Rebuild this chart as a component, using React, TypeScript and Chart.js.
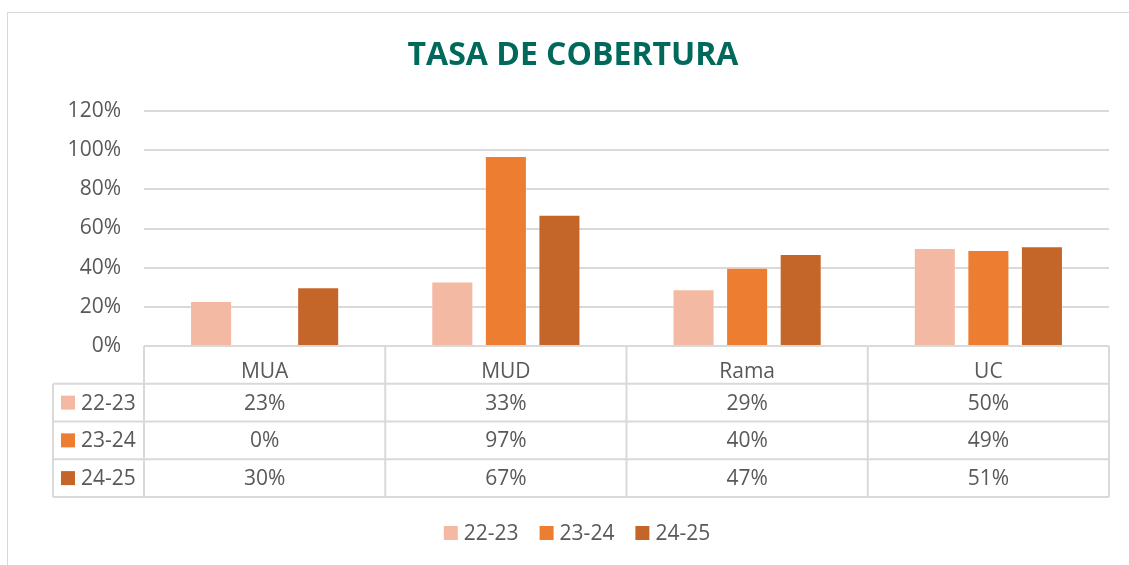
import React, { useEffect, useRef } from "react";
import { Chart, registerables } from "chart.js";

Chart.register(...registerables);

const TITLE = "TASA DE COBERTURA";
const categories = ["MUA", "MUD", "Rama", "UC"];
const seriesLabels = ["22-23", "23-24", "24-25"];
const s2223 = [23, 33, 29, 50];
const s2324 = [0, 97, 40, 49];
const s2425 = [30, 67, 47, 51];
const seriesColors = ["#F4B9A3", "#ED7D31", "#C4652A"];
const yTicks = [0, 20, 40, 60, 80, 100, 120];

const TEXT = "#595959";
const LINE = "#d9d9d9";
const FONT = "'Open Sans', sans-serif";
const FS = 21;

const tablePlugin = {
  id: "dataTable",
  afterDraw(chart: any) {
    const { ctx, chartArea } = chart;
    const xs = chart.scales.x;
    const n = categories.length;
    const cw = (xs.right - xs.left) / n;
    const rowH = 37.75;
    const top = chartArea.bottom;
    const legendLeft = 53;
    const rows = chart.data.datasets.length;
    const bottom = top + rowH * (rows + 1);
    ctx.save();
    // outer container border
    ctx.strokeStyle = LINE;
    ctx.lineWidth = 1;
    ctx.strokeRect(7.5, 12.5, 1300, 700);

    ctx.strokeStyle = LINE;
    ctx.lineWidth = 2;
    ctx.beginPath();
    ctx.moveTo(xs.left, top);
    ctx.lineTo(xs.right, top);
    for (let r = 1; r <= rows + 1; r++) {
      const y = top + r * rowH;
      ctx.moveTo(legendLeft, y);
      ctx.lineTo(xs.right, y);
    }
    for (let i = 0; i <= n; i++) {
      const x = xs.left + i * cw;
      ctx.moveTo(x, top);
      ctx.lineTo(x, bottom);
    }
    ctx.moveTo(legendLeft, top + rowH);
    ctx.lineTo(legendLeft, bottom);
    ctx.stroke();

    ctx.font = `${FS}px ${FONT}`;
    ctx.fillStyle = TEXT;
    ctx.textBaseline = "middle";
    chart.data.datasets.forEach((ds: any, r: number) => {
      const yc = top + (r + 1.5) * rowH;
      ctx.fillStyle = ds.backgroundColor;
      ctx.fillRect(61, yc - 7, 14, 14);
      ctx.fillStyle = TEXT;
      ctx.textAlign = "left";
      ctx.fillText(ds.label, 81, yc + 1);
      ctx.textAlign = "center";
      ds.data.forEach((v: number, i: number) => {
        const xc = xs.getPixelForValue(i);
        ctx.fillText(`${v}%`, xc, yc + 1);
      });
    });

    // bottom legend
    const items = chart.data.datasets.map((ds: any) => ({
      label: ds.label,
      color: ds.backgroundColor,
      w: 14 + 6 + ctx.measureText(ds.label).width,
    }));
    const gap = 21;
    const total = items.reduce((a: number, it: any) => a + it.w, 0) + gap * (items.length - 1);
    let x = 577 - total / 2;
    const ly = 533;
    ctx.textAlign = "left";
    items.forEach((it: any) => {
      ctx.fillStyle = it.color;
      ctx.fillRect(x, ly - 7, 14, 14);
      ctx.fillStyle = TEXT;
      ctx.fillText(it.label, x + 20, ly + 1);
      x += it.w + gap;
    });
    ctx.restore();
  },
};

export default function App() {
  const ref = useRef<HTMLCanvasElement | null>(null);
  useEffect(() => {
    if (!ref.current) return;
    const values = [s2223, s2324, s2425];
    const chart = new Chart(ref.current, {
      type: "bar",
      data: {
        labels: categories,
        datasets: seriesLabels.map((label, i) => ({
          label,
          data: values[i],
          backgroundColor: seriesColors[i],
          borderColor: "rgba(255,255,255,0.25)",
          borderWidth: 1,
          barPercentage: 0.785,
          categoryPercentage: 0.666,
        })),
      },
      options: {
        responsive: false,
        animation: false,
        layout: { padding: { left: 37, right: 20, top: 12, bottom: 0 } },
        plugins: {
          legend: { display: false },
          tooltip: { enabled: false },
          title: {
            display: true,
            text: TITLE,
            color: "#00695C",
            font: { family: FONT, size: 32, weight: "bold", lineHeight: 1.2 },
            padding: { top: 25, bottom: 35.6 },
          },
        },
        scales: {
          x: {
            grid: { display: false },
            border: { display: false },
            ticks: { color: TEXT, font: { family: FONT, size: FS }, padding: 5 },
            afterFit: (s: any) => {
              s.height = 219;
            },
          },
          y: {
            min: yTicks[0],
            max: yTicks[yTicks.length - 1],
            afterBuildTicks: (s: any) => {
              s.ticks = yTicks.map((v) => ({ value: v }));
            },
            ticks: {
              color: TEXT,
              font: { family: FONT, size: FS },
              padding: 23,
              callback: (v: any) => `${v}%`,
            },
            grid: { color: LINE, lineWidth: 2, drawTicks: false },
            border: { display: false },
            afterFit: (s: any) => {
              s.width = 107;
            },
          },
        },
      },
      plugins: [tablePlugin],
    });
    return () => chart.destroy();
  }, []);
  return (
    <div style={{ position: "absolute", left: 0, top: 0, width: 1129, height: 565 }}>
      <canvas ref={ref} width={1129} height={565} style={{ display: "block" }} />
    </div>
  );
}
